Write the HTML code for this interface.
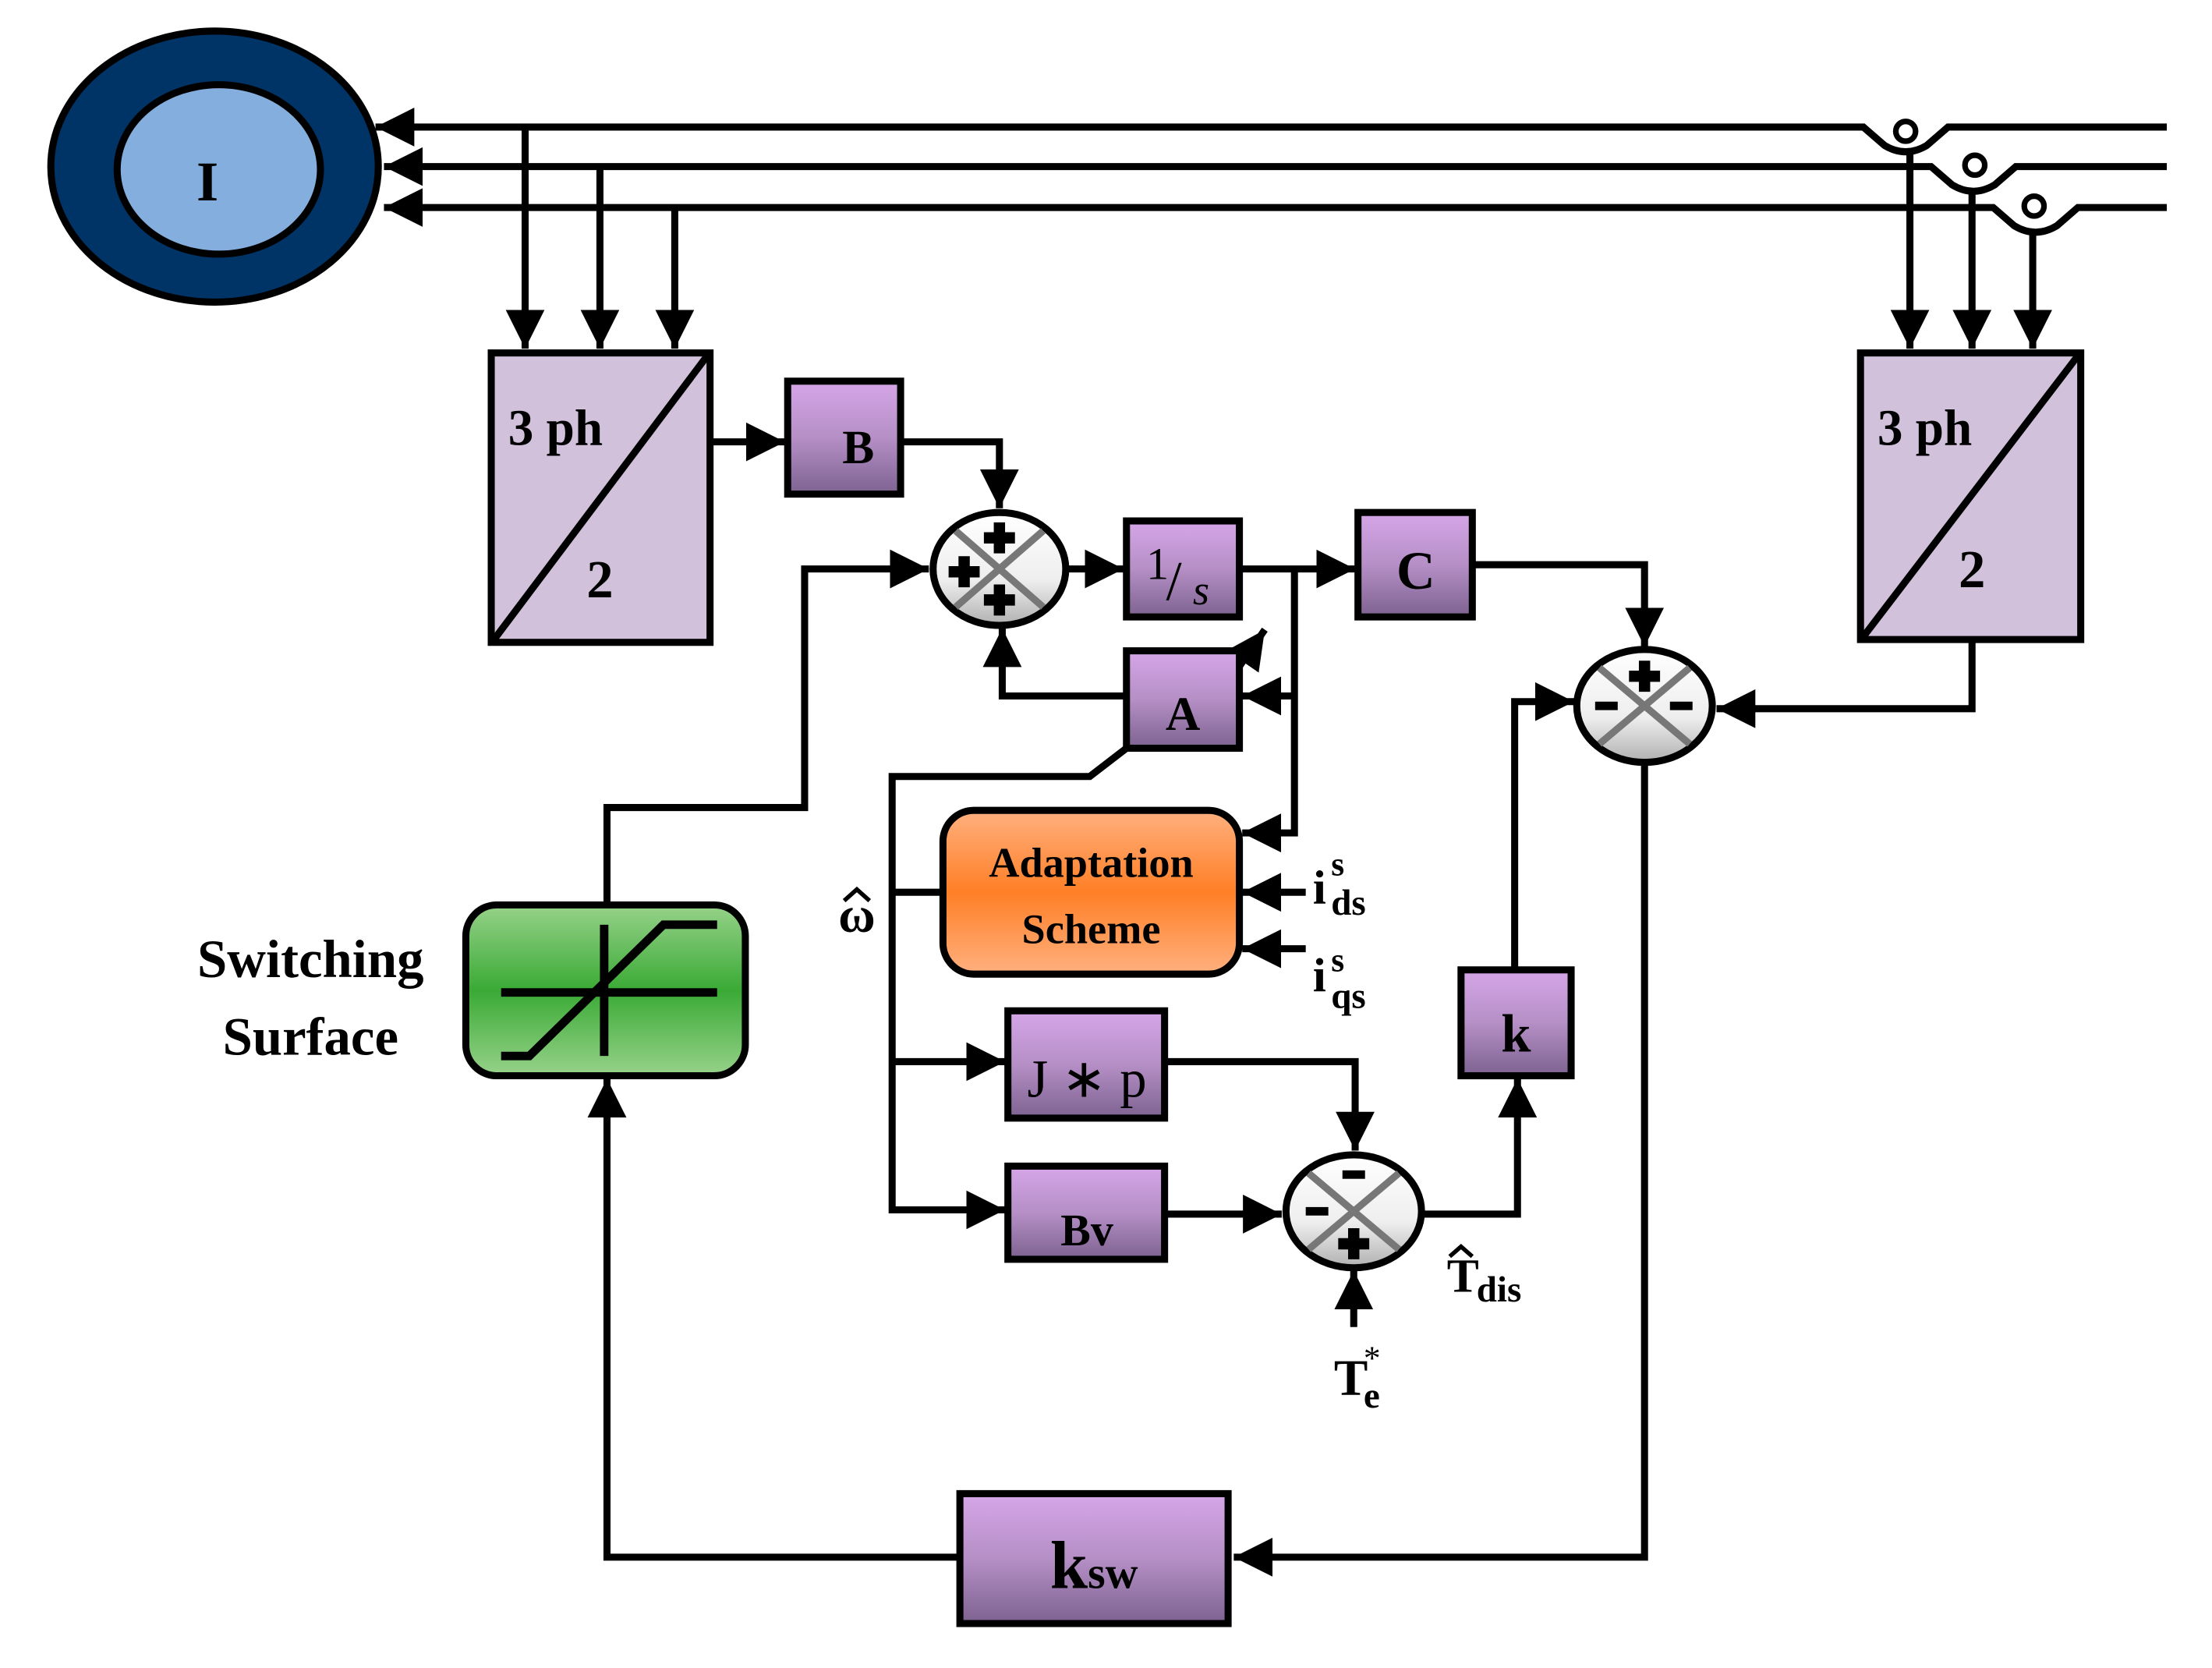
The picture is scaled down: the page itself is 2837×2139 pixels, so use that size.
<!DOCTYPE html>
<html><head><meta charset="utf-8"><style>
html,body{margin:0;padding:0;background:#fff;}
svg{display:block;}
text{font-family:"Liberation Serif",serif;fill:#000;}
</style></head><body>
<svg width="2837" height="2139" viewBox="0 0 1567 1181.5" preserveAspectRatio="none" xmlns="http://www.w3.org/2000/svg">
<defs>
<linearGradient id="pur" x1="0" y1="0" x2="0" y2="1"><stop offset="0" stop-color="#d6a6e8"/><stop offset="0.5" stop-color="#b58fc6"/><stop offset="1" stop-color="#7d6290"/></linearGradient>
<linearGradient id="org" x1="0" y1="0" x2="0" y2="1"><stop offset="0" stop-color="#ffb07f"/><stop offset="0.5" stop-color="#ff7f26"/><stop offset="1" stop-color="#ffb07f"/></linearGradient>
<linearGradient id="grn" x1="0" y1="0" x2="0" y2="1"><stop offset="0" stop-color="#97d28a"/><stop offset="0.5" stop-color="#3aaa35"/><stop offset="1" stop-color="#97d28a"/></linearGradient>
<linearGradient id="sum" x1="0" y1="0" x2="0" y2="1"><stop offset="0" stop-color="#ffffff"/><stop offset="0.6" stop-color="#eeeeee"/><stop offset="1" stop-color="#b0b0b0"/></linearGradient>
<marker id="ar" viewBox="0 0 10 10" refX="10" refY="5" markerWidth="5.5" markerHeight="5.5" orient="auto" markerUnits="strokeWidth"><path d="M0,0 L10,5 L0,10 z" fill="#000"/></marker>
</defs>
<g fill="none" stroke="#000" stroke-width="5">
<ellipse cx="152" cy="118" rx="116" ry="96" fill="#003366"/>
<ellipse cx="155" cy="120" rx="72" ry="60" fill="#84aedd"/>
<path d="M1535,90 H1380 L1365,103 Q1350,112 1335,103 L1320,90 H266" marker-end="url(#ar)"/>
<path d="M1535,118 H1428 L1413,131 Q1398,140 1383,131 L1368,118 H272" marker-end="url(#ar)"/>
<path d="M1535,147 H1472 L1457,160 Q1442,169 1427,160 L1412,147 H272" marker-end="url(#ar)"/>
</g>
<g fill="#fff" stroke="#000" stroke-width="4">
<circle cx="1350" cy="93" r="7"/><circle cx="1399" cy="117" r="7"/><circle cx="1441" cy="146" r="7"/>
</g>
<g fill="none" stroke="#000" stroke-width="5">
<path d="M372,90 V247" marker-end="url(#ar)"/>
<path d="M425,118 V247" marker-end="url(#ar)"/>
<path d="M478,147 V247" marker-end="url(#ar)"/>
<path d="M1353,108 V247" marker-end="url(#ar)"/>
<path d="M1397,135 V247" marker-end="url(#ar)"/>
<path d="M1440,165 V247" marker-end="url(#ar)"/>
<rect x="348" y="250" width="155" height="205" fill="#d1c1db"/>
<path d="M350,453 L501,252"/>
<rect x="1318" y="250" width="156" height="203" fill="#d1c1db"/>
<path d="M1320,451 L1472,252"/>
<path d="M503,313 H556" marker-end="url(#ar)"/>
<path d="M638,313 H708 V360" marker-end="url(#ar)"/>
<path d="M430,641 V572 H570 V403 H658" marker-end="url(#ar)"/>
<path d="M756,403 H796" marker-end="url(#ar)"/>
<path d="M878,403 H960" marker-end="url(#ar)"/>
<path d="M917,403 V590 H880" marker-end="url(#ar)"/>
<path d="M917,493 H880" marker-end="url(#ar)"/>
<path d="M798,493 H710 V445" marker-end="url(#ar)"/>
<path d="M878,472 L896,446" marker-end="url(#ar)"/>
<path d="M798,530 L772,550 H632 V857 H712" marker-end="url(#ar)"/>
<path d="M632,632 H668"/>
<path d="M632,752 H712" marker-end="url(#ar)"/>
<path d="M1043,400 H1165 V458" marker-end="url(#ar)"/>
<path d="M1397,453 V502 H1216" marker-end="url(#ar)"/>
<path d="M925,632 H880" marker-end="url(#ar)"/>
<path d="M925,672 H880" marker-end="url(#ar)"/>
<path d="M825,752 H960 V815" marker-end="url(#ar)"/>
<path d="M825,860 H908" marker-end="url(#ar)"/>
<path d="M959,940 V900" marker-end="url(#ar)"/>
<path d="M1008,860 H1075 V764" marker-end="url(#ar)"/>
<path d="M1073,687 V497 H1115" marker-end="url(#ar)"/>
<path d="M1165,540 V1103 H874" marker-end="url(#ar)"/>
<path d="M680,1103 H430 V764" marker-end="url(#ar)"/>
<rect x="558" y="270" width="80" height="80" fill="url(#pur)"/>
<rect x="798" y="369" width="80" height="68" fill="url(#pur)"/>
<rect x="962" y="363" width="81" height="74" fill="url(#pur)"/>
<rect x="798" y="461" width="80" height="69" fill="url(#pur)"/>
<rect x="714" y="716" width="111" height="76" fill="url(#pur)"/>
<rect x="714" y="826" width="111" height="66" fill="url(#pur)"/>
<rect x="1035" y="687" width="78" height="75" fill="url(#pur)"/>
<rect x="680" y="1058" width="190" height="92" fill="url(#pur)"/>
<rect x="668" y="574" width="210" height="116" rx="22" fill="url(#org)"/>
<rect x="330" y="641" width="198" height="121" rx="22" fill="url(#grn)"/>
</g>
<g fill="none" stroke="#000" stroke-width="6">
<path d="M355,703 H508 M428,655 V748 M355,748 H375 L470,655 H508"/>
</g>
<g stroke="#000" stroke-width="5" fill="url(#sum)">
<ellipse cx="708" cy="403" rx="47" ry="40"/>
<ellipse cx="1165" cy="500" rx="48" ry="40"/>
<ellipse cx="959" cy="858" rx="48" ry="40"/>
</g>
<g stroke="#777" stroke-width="5">
<path d="M677,376 L739,430 M739,376 L677,430"/>
<path d="M1133,473 L1197,527 M1197,473 L1133,527"/>
<path d="M927,831 L991,885 M991,831 L927,885"/>
</g>
<g fill="#000">
<path d="M704,370 h8 v7 h7 v8 h-7 v7 h-8 v-7 h-7 v-8 h7 z"/>
<path d="M679,394 h8 v7 h7 v8 h-7 v7 h-8 v-7 h-7 v-8 h7 z"/>
<path d="M704,414 h8 v7 h7 v8 h-7 v7 h-8 v-7 h-7 v-8 h7 z"/>
<path d="M1161,468 h8 v7 h7 v8 h-7 v7 h-8 v-7 h-7 v-8 h7 z"/>
<rect x="1130" y="497" width="16" height="6"/><rect x="1183" y="497" width="16" height="6"/>
<rect x="951" y="829" width="16" height="6"/><rect x="925" y="855" width="16" height="6"/>
<path d="M955,870 h8 v7 h7 v8 h-7 v7 h-8 v-7 h-7 v-8 h7 z"/>
</g>
<g font-weight="bold">
<text x="147" y="142" font-size="40" text-anchor="middle">I</text>
<text x="360" y="315" font-size="36">3 ph</text>
<text x="425" y="423" font-size="38" text-anchor="middle">2</text>
<text x="1330" y="315" font-size="36">3 ph</text>
<text x="1397" y="416" font-size="38" text-anchor="middle">2</text>
<text x="608" y="328" font-size="34" text-anchor="middle">B</text>
<text x="812" y="410" font-size="32" font-weight="normal">1</text>
<text x="826" y="425" font-size="40" font-weight="normal">/</text>
<text x="845" y="428" font-size="30" font-style="italic" font-weight="normal">s</text>
<text x="1003" y="417" font-size="38" text-anchor="middle">C</text>
<text x="838" y="517" font-size="34" text-anchor="middle">A</text>
<text x="773" y="621" font-size="30" text-anchor="middle">Adaptation</text>
<text x="773" y="668" font-size="30" text-anchor="middle">Scheme</text>
<text x="770" y="777" font-size="38" text-anchor="middle" font-weight="normal">J ∗ p</text>
<text x="770" y="882" font-size="32" text-anchor="middle">Bv</text>
<text x="1074" y="745" font-size="38" text-anchor="middle">k</text>
<text x="775" y="1125" font-size="48" text-anchor="middle">k<tspan font-size="32">sw</tspan></text>
<text x="220" y="692" font-size="38" text-anchor="middle">Switching</text>
<text x="220" y="747" font-size="38" text-anchor="middle">Surface</text>
<text x="607" y="660" font-size="36" text-anchor="middle">ω</text>
<path d="M598,638 L607,630 L616,638" fill="none" stroke="#000" stroke-width="3"/>
<text x="930" y="640" font-size="34">i</text><text x="943" y="620" font-size="24">s</text><text x="943" y="648" font-size="26">ds</text>
<text x="930" y="702" font-size="34">i</text><text x="943" y="688" font-size="24">s</text><text x="943" y="714" font-size="26">qs</text>
<text x="1025" y="915" font-size="34">T</text><path d="M1027,890 L1035,883 L1043,890" fill="none" stroke="#000" stroke-width="3"/><text x="1046" y="922" font-size="26">dis</text>
<text x="945" y="988" font-size="36">T</text><text x="966" y="970" font-size="24" font-weight="normal">*</text><text x="966" y="997" font-size="26">e</text>
</g>
</svg>
</body></html>
